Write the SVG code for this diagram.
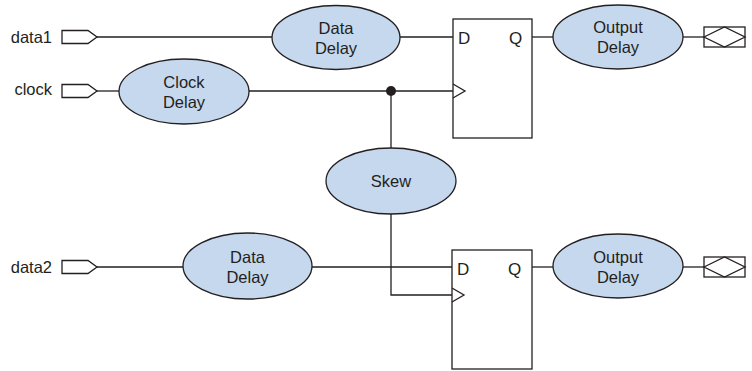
<svg xmlns="http://www.w3.org/2000/svg" width="752" height="371" viewBox="0 0 752 371">
<style>
.w{fill:none;stroke:#231f20;stroke-width:1.3}
.p{fill:#fff;stroke:#231f20;stroke-width:1.3}
.e{fill:#c6d8ee;stroke:#231f20;stroke-width:1.3}
text{font-family:"Liberation Sans",Arial,sans-serif;font-size:16.5px;fill:#231f20}
.c{text-anchor:middle}
.l{text-anchor:end}
.f{font-size:17px}
</style>
<defs>
<path id="inport" class="p" d="M0,-6.5H26L35,0L26,6.5H0Z"/>
<g id="outport"><rect class="p" x="0" y="-10" width="41" height="20"/><path class="w" d="M0,0L20.5,-10L41,0L20.5,10Z"/></g>
</defs>
<g id="connectors">
<path class="w" d="M97,37H272"/>
<path class="w" d="M400,37H453"/>
<path class="w" d="M532,37H553"/>
<path class="w" d="M683,37H704"/>
<path class="w" d="M97,91H119"/>
<path class="w" d="M249,91H453"/>
<path class="w" d="M391,91V148"/>
<path class="w" d="M391,214V295H452"/>
<path class="w" d="M97,267H183"/>
<path class="w" d="M312,267H452"/>
<path class="w" d="M532,267H553"/>
<path class="w" d="M683,267H704"/>
<circle cx="391" cy="91" r="5" fill="#231f20"/>
</g>
<g id="data1"><text class="l" x="52" y="43">data1</text><use href="#inport" x="62" y="37"/></g>
<g id="clock"><text class="l" x="52" y="95">clock</text><use href="#inport" x="62" y="91"/></g>
<g id="data2"><text class="l" x="52" y="273">data2</text><use href="#inport" x="62" y="267"/></g>
<g id="datadelay1"><ellipse class="e" cx="336" cy="37.5" rx="64" ry="32"/><text class="c" x="336" y="34">Data</text><text class="c" x="336" y="54">Delay</text></g>
<g id="clockdelay"><ellipse class="e" cx="184" cy="91.5" rx="65" ry="32.5"/><text class="c" x="184" y="88">Clock</text><text class="c" x="184" y="108">Delay</text></g>
<g id="skew"><ellipse class="e" cx="391" cy="181" rx="65" ry="33"/><text class="c" x="391" y="187">Skew</text></g>
<g id="datadelay2"><ellipse class="e" cx="247.5" cy="266" rx="64.5" ry="33"/><text class="c" x="247.5" y="263">Data</text><text class="c" x="247.5" y="283">Delay</text></g>
<g id="ff1"><rect class="p" x="453" y="19" width="79" height="119"/><path class="w" d="M453,84L465,91L453,98"/><text class="f" x="458" y="44">D</text><text class="f" x="509" y="44">Q</text></g>
<g id="ff2"><rect class="p" x="452" y="250" width="80" height="119"/><path class="w" d="M452,288L464,295L452,302"/><text class="f" x="457" y="275">D</text><text class="f" x="508" y="275">Q</text></g>
<g id="outdelay1"><ellipse class="e" cx="618" cy="37" rx="65" ry="32"/><text class="c" x="618" y="33">Output</text><text class="c" x="618" y="53">Delay</text></g>
<g id="outdelay2"><ellipse class="e" cx="618" cy="266" rx="65" ry="32"/><text class="c" x="618" y="263">Output</text><text class="c" x="618" y="283">Delay</text></g>
<g id="out1"><use href="#outport" x="704" y="37"/></g>
<g id="out2"><use href="#outport" x="704" y="267"/></g>
</svg>
